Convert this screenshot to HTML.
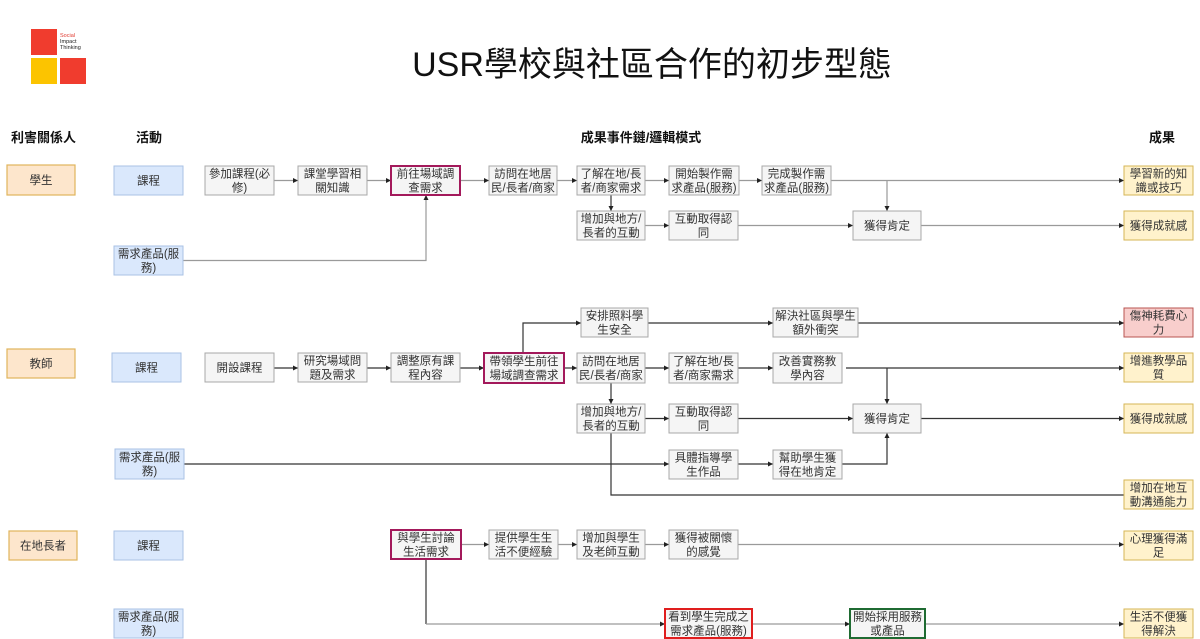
<!DOCTYPE html>
<html>
<head>
<meta charset="utf-8">
<style>
html,body{margin:0;padding:0;background:#fff;}
svg{display:block;}
text{font-family:"Liberation Sans","Noto Sans CJK TC",sans-serif;}
.t{font-size:11.5px;fill:#333;text-anchor:middle;}
.h{font-size:13px;fill:#111;text-anchor:middle;font-weight:bold;}
.g{fill:#f5f5f5;stroke:#a8a8a8;stroke-width:1;}
.b{fill:#dae8fc;stroke:#a9c2e4;stroke-width:1;}
.o{fill:#fde6cc;stroke:#e0b45c;stroke-width:1.2;}
.y{fill:#fff2cc;stroke:#d6b656;stroke-width:1;}
.r{fill:#f8cecc;stroke:#b85450;stroke-width:1;}
.m{fill:#f5f5f5;stroke:#a3195b;stroke-width:2;}
.rd{fill:#f5f5f5;stroke:#e01e1e;stroke-width:2;}
.gr{fill:#f5f5f5;stroke:#1f6b32;stroke-width:2;}
.l1{stroke:#9a9a9a;stroke-width:1.2;fill:none;marker-end:url(#ag);}
.l2{stroke:#333;stroke-width:1.2;fill:none;marker-end:url(#ad);}
.n1{stroke:#9a9a9a;stroke-width:1.2;fill:none;}
.n2{stroke:#333;stroke-width:1.2;fill:none;}
</style>
</head>
<body>
<svg width="1200" height="639" viewBox="0 0 1200 639" xmlns="http://www.w3.org/2000/svg">
<defs>
<marker id="ag" markerWidth="6" markerHeight="6" refX="5" refY="3" orient="auto" markerUnits="userSpaceOnUse"><path d="M0,0.5 L5,3 L0,5.5 z" fill="#222"/></marker>
<marker id="ad" markerWidth="6" markerHeight="6" refX="5" refY="3" orient="auto" markerUnits="userSpaceOnUse"><path d="M0,0.5 L5,3 L0,5.5 z" fill="#222"/></marker>
</defs>

<!-- logo -->
<rect x="31" y="29" width="26" height="26" fill="#f03c2e"/>
<rect x="31" y="58" width="26" height="26" fill="#fcc400"/>
<rect x="60" y="58" width="26" height="26" fill="#f03c2e"/>
<text x="60" y="37" style="font-size:5.5px;fill:#e03a30;">Social</text>
<text x="60" y="43" style="font-size:5.5px;fill:#222;">Impact</text>
<text x="60" y="49" style="font-size:5.5px;fill:#222;">Thinking</text>

<!-- title -->
<text x="652" y="76" style="font-size:34px;fill:#111;text-anchor:middle;">USR學校與社區合作的初步型態</text>

<!-- headers -->
<text class="h" x="43.5" y="142">利害關係人</text>
<text class="h" x="149" y="142">活動</text>
<text class="h" x="641" y="142">成果事件鏈/邏輯模式</text>
<text class="h" x="1162" y="142">成果</text>

<!-- ===== connectors row 1 (gray) ===== -->
<line class="l1" x1="274" y1="180.5" x2="298" y2="180.5"/>
<line class="l1" x1="367" y1="180.5" x2="391" y2="180.5"/>
<line class="l1" x1="460" y1="180.5" x2="489" y2="180.5"/>
<line class="l1" x1="557" y1="180.5" x2="577" y2="180.5"/>
<line class="l1" x1="645" y1="180.5" x2="669" y2="180.5"/>
<line class="l1" x1="739" y1="180.5" x2="762" y2="180.5"/>
<line class="l1" x1="831" y1="180.5" x2="1124" y2="180.5"/>
<line class="l1" x1="887" y1="180.5" x2="887" y2="211"/>
<line class="l2" x1="611" y1="195" x2="611" y2="211"/>
<line class="l1" x1="645" y1="225.5" x2="669" y2="225.5"/>
<line class="l1" x1="738" y1="225.5" x2="853" y2="225.5"/>
<line class="l1" x1="921" y1="225.5" x2="1124" y2="225.5"/>
<polyline class="l1" points="183,260.5 426,260.5 426,195"/>

<!-- ===== connectors row 2 (dark) ===== -->
<line class="l2" x1="274" y1="368" x2="298" y2="368"/>
<line class="l2" x1="367" y1="368" x2="391" y2="368"/>
<line class="l2" x1="460" y1="368" x2="484" y2="368"/>
<line class="l2" x1="564" y1="368" x2="577" y2="368"/>
<line class="l2" x1="645" y1="368" x2="669" y2="368"/>
<line class="l2" x1="738" y1="368" x2="773" y2="368"/>
<line class="l2" x1="846" y1="368" x2="1124" y2="368"/>
<line class="l2" x1="887" y1="368" x2="887" y2="404"/>
<polyline class="l2" points="523,353 523,323 581,323"/>
<line class="l2" x1="648" y1="323" x2="773" y2="323"/>
<line class="l2" x1="858" y1="323" x2="1124" y2="323"/>
<line class="l2" x1="611" y1="383" x2="611" y2="404"/>
<line class="l2" x1="645" y1="418.5" x2="669" y2="418.5"/>
<line class="l2" x1="738" y1="418.5" x2="853" y2="418.5"/>
<line class="l2" x1="921" y1="418.5" x2="1124" y2="418.5"/>
<line class="l2" x1="184" y1="464" x2="669" y2="464"/>
<line class="l2" x1="738" y1="464" x2="773" y2="464"/>
<polyline class="l2" points="842,464 887,464 887,433"/>
<polyline class="n2" points="611,433 611,495 1124,495"/>

<!-- ===== connectors row 3 ===== -->
<line class="l1" x1="461" y1="544.5" x2="489" y2="544.5"/>
<line class="l1" x1="558" y1="544.5" x2="577" y2="544.5"/>
<line class="l1" x1="645" y1="544.5" x2="669" y2="544.5"/>
<line class="l1" x1="738" y1="544.5" x2="1124" y2="544.5"/>
<line class="n2" x1="426" y1="559" x2="426" y2="624"/>
<line class="l1" x1="426" y1="624" x2="665" y2="624"/>
<line class="l1" x1="752" y1="624" x2="850" y2="624"/>
<line class="l1" x1="925" y1="624" x2="1124" y2="624"/>

<!-- ===== row 1 boxes ===== -->
<rect class="o" x="7" y="165" width="68" height="30"/>
<text class="t" x="41" y="184">學生</text>
<rect class="b" x="114" y="166" width="69" height="29"/>
<text class="t" x="148.5" y="184.5">課程</text>
<rect class="g" x="205" y="166" width="69" height="29"/>
<text class="t" x="239.5" y="177.5">參加課程(必</text><text class="t" x="239.5" y="191.5">修)</text>
<rect class="g" x="298" y="166" width="69" height="29"/>
<text class="t" x="332.5" y="177.5">課堂學習相</text><text class="t" x="332.5" y="191.5">關知識</text>
<rect class="m" x="391" y="166" width="69" height="29"/>
<text class="t" x="425.5" y="177.5">前往場域調</text><text class="t" x="425.5" y="191.5">查需求</text>
<rect class="g" x="489" y="166" width="68" height="29"/>
<text class="t" x="523" y="177.5">訪問在地居</text><text class="t" x="523" y="191.5">民/長者/商家</text>
<rect class="g" x="577" y="166" width="68" height="29"/>
<text class="t" x="611" y="177.5">了解在地/長</text><text class="t" x="611" y="191.5">者/商家需求</text>
<rect class="g" x="669" y="166" width="70" height="29"/>
<text class="t" x="704" y="177.5">開始製作需</text><text class="t" x="704" y="191.5">求產品(服務)</text>
<rect class="g" x="762" y="166" width="69" height="29"/>
<text class="t" x="796.5" y="177.5">完成製作需</text><text class="t" x="796.5" y="191.5">求產品(服務)</text>
<rect class="y" x="1124" y="166" width="69" height="29"/>
<text class="t" x="1158.5" y="177.5">學習新的知</text><text class="t" x="1158.5" y="191.5">識或技巧</text>

<rect class="g" x="577" y="211" width="68" height="29"/>
<text class="t" x="611" y="222.5">增加與地方/</text><text class="t" x="611" y="236.5">長者的互動</text>
<rect class="g" x="669" y="211" width="69" height="29"/>
<text class="t" x="703.5" y="222.5">互動取得認</text><text class="t" x="703.5" y="236.5">同</text>
<rect class="g" x="853" y="211" width="68" height="29"/>
<text class="t" x="887" y="229.5">獲得肯定</text>
<rect class="y" x="1124" y="211" width="69" height="29"/>
<text class="t" x="1158.5" y="229.5">獲得成就感</text>

<rect class="b" x="114" y="246" width="69" height="29"/>
<text class="t" x="148.5" y="257.5">需求產品(服</text><text class="t" x="148.5" y="271.5">務)</text>

<!-- ===== row 2 boxes ===== -->
<rect class="o" x="7" y="349" width="68" height="29"/>
<text class="t" x="41" y="367.5">教師</text>
<rect class="b" x="112" y="353" width="69" height="29"/>
<text class="t" x="146.5" y="371.5">課程</text>
<rect class="g" x="205" y="353" width="69" height="29"/>
<text class="t" x="239.5" y="371.5">開設課程</text>
<rect class="g" x="298" y="353" width="69" height="29"/>
<text class="t" x="332.5" y="364.5">研究場域問</text><text class="t" x="332.5" y="378.5">題及需求</text>
<rect class="g" x="391" y="353" width="69" height="29"/>
<text class="t" x="425.5" y="364.5">調整原有課</text><text class="t" x="425.5" y="378.5">程內容</text>
<rect class="m" x="484" y="353" width="80" height="30"/>
<text class="t" x="524" y="365">帶領學生前往</text><text class="t" x="524" y="379">場域調查需求</text>
<rect class="g" x="577" y="353" width="68" height="30"/>
<text class="t" x="611" y="365">訪問在地居</text><text class="t" x="611" y="379">民/長者/商家</text>
<rect class="g" x="669" y="353" width="69" height="30"/>
<text class="t" x="703.5" y="365">了解在地/長</text><text class="t" x="703.5" y="379">者/商家需求</text>
<rect class="g" x="773" y="353" width="69" height="30"/>
<text class="t" x="807.5" y="365">改善實務教</text><text class="t" x="807.5" y="379">學內容</text>
<rect class="y" x="1124" y="353" width="69" height="29"/>
<text class="t" x="1158.5" y="364.5">增進教學品</text><text class="t" x="1158.5" y="378.5">質</text>

<rect class="g" x="581" y="308" width="67" height="29"/>
<text class="t" x="614.5" y="319.5">安排照料學</text><text class="t" x="614.5" y="333.5">生安全</text>
<rect class="g" x="773" y="308" width="85" height="29"/>
<text class="t" x="815.5" y="319.5">解決社區與學生</text><text class="t" x="815.5" y="333.5">額外衝突</text>
<rect class="r" x="1124" y="308" width="69" height="29"/>
<text class="t" x="1158.5" y="319.5">傷神耗費心</text><text class="t" x="1158.5" y="333.5">力</text>

<rect class="g" x="577" y="404" width="68" height="29"/>
<text class="t" x="611" y="415.5">增加與地方/</text><text class="t" x="611" y="429.5">長者的互動</text>
<rect class="g" x="669" y="404" width="69" height="29"/>
<text class="t" x="703.5" y="415.5">互動取得認</text><text class="t" x="703.5" y="429.5">同</text>
<rect class="g" x="853" y="404" width="68" height="29"/>
<text class="t" x="887" y="422.5">獲得肯定</text>
<rect class="y" x="1124" y="404" width="69" height="29"/>
<text class="t" x="1158.5" y="422.5">獲得成就感</text>

<rect class="b" x="115" y="449" width="69" height="30"/>
<text class="t" x="149.5" y="461">需求產品(服</text><text class="t" x="149.5" y="475">務)</text>
<rect class="g" x="669" y="450" width="69" height="29"/>
<text class="t" x="703.5" y="461.5">具體指導學</text><text class="t" x="703.5" y="475.5">生作品</text>
<rect class="g" x="773" y="450" width="69" height="29"/>
<text class="t" x="807.5" y="461.5">幫助學生獲</text><text class="t" x="807.5" y="475.5">得在地肯定</text>
<rect class="y" x="1124" y="480" width="69" height="29"/>
<text class="t" x="1158.5" y="491.5">增加在地互</text><text class="t" x="1158.5" y="505.5">動溝通能力</text>

<!-- ===== row 3 boxes ===== -->
<rect class="o" x="9" y="531" width="68" height="29"/>
<text class="t" x="43" y="549.5">在地長者</text>
<rect class="b" x="114" y="531" width="69" height="29"/>
<text class="t" x="148.5" y="549.5">課程</text>
<rect class="m" x="391" y="530" width="70" height="29"/>
<text class="t" x="426" y="541.5">與學生討論</text><text class="t" x="426" y="555.5">生活需求</text>
<rect class="g" x="489" y="530" width="69" height="29"/>
<text class="t" x="523.5" y="541.5">提供學生生</text><text class="t" x="523.5" y="555.5">活不便經驗</text>
<rect class="g" x="577" y="530" width="68" height="29"/>
<text class="t" x="611" y="541.5">增加與學生</text><text class="t" x="611" y="555.5">及老師互動</text>
<rect class="g" x="669" y="530" width="69" height="29"/>
<text class="t" x="703.5" y="541.5">獲得被關懷</text><text class="t" x="703.5" y="555.5">的感覺</text>
<rect class="y" x="1124" y="531" width="69" height="29"/>
<text class="t" x="1158.5" y="542.5">心理獲得滿</text><text class="t" x="1158.5" y="556.5">足</text>

<rect class="b" x="114" y="609" width="69" height="29"/>
<text class="t" x="148.5" y="620.5">需求產品(服</text><text class="t" x="148.5" y="634.5">務)</text>
<rect class="rd" x="665" y="609" width="87" height="29"/>
<text class="t" x="708.5" y="620.5">看到學生完成之</text><text class="t" x="708.5" y="634.5">需求產品(服務)</text>
<rect class="gr" x="850" y="609" width="75" height="29"/>
<text class="t" x="887.5" y="620.5">開始採用服務</text><text class="t" x="887.5" y="634.5">或產品</text>
<rect class="y" x="1124" y="609" width="69" height="29"/>
<text class="t" x="1158.5" y="620.5">生活不便獲</text><text class="t" x="1158.5" y="634.5">得解決</text>
</svg>
</body>
</html>
